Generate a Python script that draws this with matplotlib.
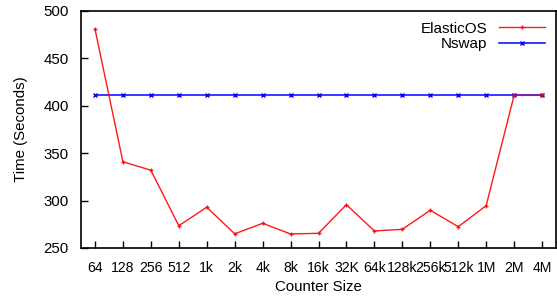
import matplotlib
matplotlib.use('Agg')
import matplotlib.pyplot as plt

plt.rcParams['font.family'] = ['Liberation Sans', 'DejaVu Sans']
plt.rcParams['font.size'] = 10.8

sizes = ['64', '128', '256', '512', '1k', '2k', '4k', '8k', '16k', '32K',
         '64k', '128k', '256k', '512k', '1M', '2M', '4M']
elasticos = [481, 341, 332, 273.5, 293, 265, 276, 264.8, 265.5, 295.7,
             268, 269.7, 289.8, 272.5, 294.6, 411, 411]
nswap = [411] * len(sizes)

x = list(range(len(sizes)))

fig = plt.figure(figsize=(5.57, 2.98), dpi=100)
ax = fig.add_axes([81 / 557, 1 - 248 / 298, 475 / 557, 237 / 298])

ax.plot(x, nswap, color='#0000ff', marker='x', markersize=2.5, markeredgewidth=1,
        linewidth=1.1, label='Nswap', zorder=2)
ax.plot(x, elasticos, color='#ff0000', marker='+', markersize=3, markeredgewidth=1,
        linewidth=1.0, label='ElasticOS', zorder=3, alpha=0.9)

ax.set_xlim(-0.5, len(sizes) - 0.5)
ax.set_ylim(250, 500)
ax.set_yticks([250, 300, 350, 400, 450, 500])
ax.set_xticks(x)
ax.set_xticklabels(sizes)
ax.tick_params(direction='in', length=5, width=1, top=False, right=False)
ax.tick_params(axis='x', pad=9, labelsize=10.1)
ax.tick_params(axis='y', pad=9)
for s in ax.spines.values():
    s.set_linewidth(1.2)

ax.set_xlabel('Counter Size', labelpad=4)
ax.set_ylabel('Time (Seconds)', labelpad=11)

handles, labels = ax.get_legend_handles_labels()
ax.legend(handles[::-1], labels[::-1], loc='upper right', frameon=False,
          markerfirst=False, handlelength=3.0, handletextpad=0.8,
          borderaxespad=0.3, labelspacing=0.1, fontsize=11)

fig.savefig('out.png', dpi=100)
